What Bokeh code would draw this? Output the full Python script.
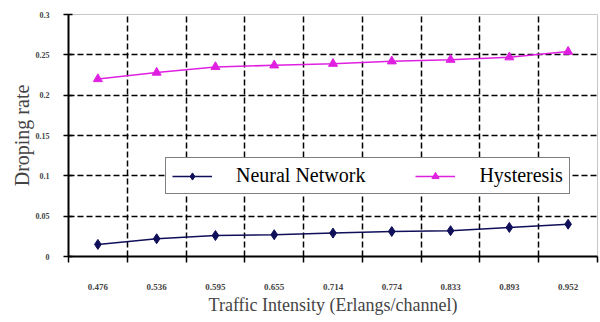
import numpy as np
from bokeh.plotting import figure
from bokeh.models import LinearAxis, FixedTicker, Range1d, Grid
from bokeh.embed import file_html
from bokeh.resources import INLINE

categories = ["0.476", "0.536", "0.595", "0.655", "0.714", "0.774", "0.833", "0.893", "0.952"]
neural_network = [0.015, 0.022, 0.026, 0.027, 0.029, 0.031, 0.032, 0.036, 0.040]
hysteresis = [0.220, 0.228, 0.235, 0.237, 0.239, 0.242, 0.244, 0.247, 0.254]
y_ticks = [0, 0.05, 0.1, 0.15, 0.2, 0.25, 0.3]

SERIF = "Liberation Serif"
n = len(categories)
xc = list(np.arange(n) + 0.5)
bounds = list(range(0, n + 1))

p = figure(width=600, height=322, output_backend="svg", toolbar_location=None,
           x_range=Range1d(0, n), y_range=Range1d(0, 0.3),
           x_axis_type=None, min_border_left=68, min_border_top=14,
           min_border_right=3, min_border_bottom=66)
p.background_fill_color = "white"
p.border_fill_color = "white"
p.outline_line_color = "#c8c8c8"
p.outline_line_width = 1

# y axis
ya = p.yaxis[0]
ya.ticker = FixedTicker(ticks=y_ticks)
ya.axis_line_width = 2
ya.axis_line_color = "black"
ya.major_tick_line_width = 1.5
ya.major_tick_out = 5
ya.major_tick_in = 4
ya.minor_tick_line_color = None
ya.major_label_standoff = 14
ya.major_label_text_font = SERIF
ya.major_label_text_font_style = "bold"
ya.major_label_text_font_size = "8px"
ya.axis_label = "Droping rate"
ya.axis_label_text_font = SERIF
ya.axis_label_text_font_style = "normal"
ya.axis_label_text_font_size = "20px"
ya.axis_label_standoff = 0

# x axis with boundary ticks (no labels)
xa = LinearAxis(ticker=FixedTicker(ticks=bounds))
xa.major_label_overrides = {b: "" for b in bounds}
xa.major_label_text_font_size = "1px"
xa.major_label_standoff = 0
xa.axis_line_width = 2
xa.major_tick_line_width = 1.5
xa.major_tick_out = 6
xa.major_tick_in = 0
xa.minor_tick_line_color = None
p.add_layout(xa, "below")

# x axis with category labels at centres
xb = LinearAxis(ticker=FixedTicker(ticks=xc))
xb.major_label_overrides = {float(x): c for x, c in zip(xc, categories)}
xb.axis_line_color = None
xb.major_tick_line_color = None
xb.minor_tick_line_color = None
xb.major_label_standoff = 15
xb.major_label_text_font = SERIF
xb.major_label_text_font_style = "bold"
xb.major_label_text_font_size = "9px"
xb.axis_label = "Traffic Intensity (Erlangs/channel)"
xb.axis_label_text_font = SERIF
xb.axis_label_text_font_style = "normal"
xb.axis_label_text_font_size = "18px"
xb.axis_label_standoff = 2
p.add_layout(xb, "below")

# grids
p.ygrid.ticker = FixedTicker(ticks=y_ticks[1:-1])
p.ygrid.grid_line_color = "black"
p.ygrid.grid_line_dash = "6 3"
p.ygrid.grid_line_width = 1.5
xg = Grid(dimension=0, ticker=FixedTicker(ticks=bounds[1:-1]),
          grid_line_color="black", grid_line_dash="6 3", grid_line_width=1.5)
p.add_layout(xg)

nn_color = "#10105a"
hy_color = "#e020e0"
p.line(xc, neural_network, line_color=nn_color, line_width=1.5, legend_label="Neural Network")
p.scatter(xc, neural_network, marker="diamond", size=10, fill_color=nn_color,
          line_color=nn_color, legend_label="Neural Network")
p.line(xc, hysteresis, line_color=hy_color, line_width=1.5, legend_label="Hysteresis")
p.scatter(xc, hysteresis, marker="triangle", size=9, fill_color=hy_color,
          line_color=hy_color, legend_label="Hysteresis")

lg = p.legend[0]
lg.location = (97, 62)
lg.orientation = "horizontal"
lg.padding = 6
lg.spacing = 50
lg.glyph_width = 40
lg.glyph_height = 18
lg.label_standoff = 24
lg.label_text_font = SERIF
lg.label_text_font_size = "20px"
lg.label_text_color = "black"
lg.border_line_color = "black"
lg.border_line_width = 1.5
lg.background_fill_color = "white"
lg.background_fill_alpha = 1.0
lg.margin = 0

open("out.html", "w").write(file_html(p, INLINE))
